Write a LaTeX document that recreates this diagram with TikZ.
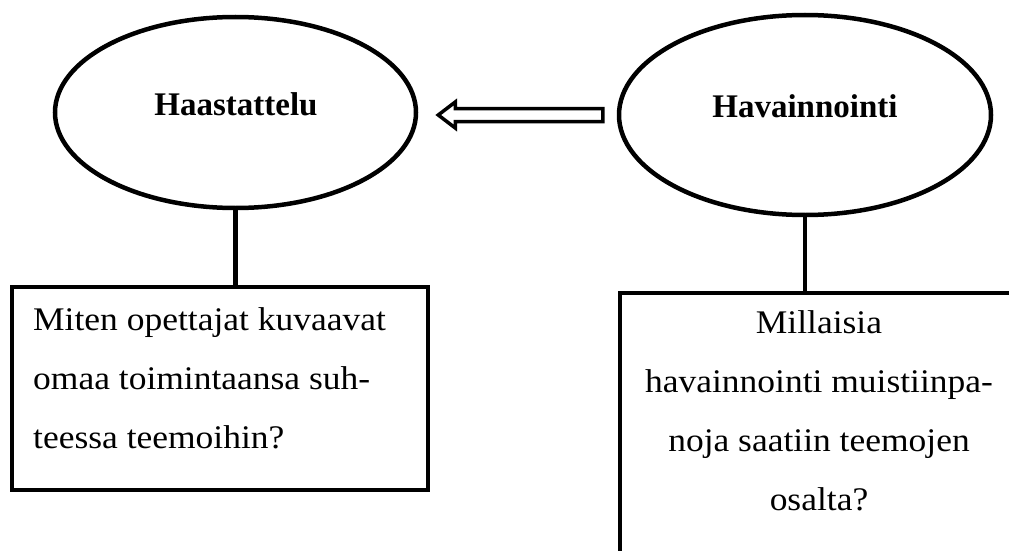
\documentclass[tikz,border=0pt]{standalone}
\usepackage{fontspec}
\setmainfont{Liberation Serif}
\newfontfamily\bodyfont[FakeStretch=1.075]{Liberation Serif}
\usetikzlibrary{shapes.geometric,calc}
\begin{document}
\begin{tikzpicture}[x=1pt,y=-1pt,
  oval/.style={ellipse, draw, line width=4.5pt, inner sep=0pt},
  qbox/.style={rectangle, draw, line width=4.5pt, inner sep=0pt},
  link/.style={line width=4.5pt},
  hollow/.style={draw, line width=3.5pt, line join=miter, fill=white},
  txt/.style={font=\bodyfont\fontsize{33}{59}\selectfont, inner sep=0pt},
  lbl/.style={font=\fontsize{33}{38}\selectfont\bfseries, inner sep=0pt}]
\clip (0,0) rectangle (1009,551);

% the two method ovals
\node[oval, minimum width=361pt, minimum height=191pt] (H) at (235.5,112.5) {};
\node[oval, minimum width=372pt, minimum height=200pt] (V) at (805,115) {};
\node[lbl, anchor=base] (tH) at (236,115) {Haastattelu};
\node[lbl, anchor=base] (tV) at (805,117) {Havainnointi};

% question boxes
\node[qbox, minimum width=416pt, minimum height=203pt] (B1) at (220,388.5) {};
\node[qbox, minimum width=402pt, minimum height=300pt] (B2) at (821,443) {};
\node[txt, anchor=north west, align=left] (q1) at (33,307)
  {Miten opettajat kuvaavat\\omaa toimintaansa suh-\\teessa teemoihin?};
\node[txt, anchor=north, align=center] (q2) at (819,310)
  {Millaisia\\havainnointi muistiinpa-\\noja saatiin teemojen\\osalta?};

% stems from ovals to boxes
\draw[link] (H.south) -- (H.south |- B1.north);
\draw[link] (V.south) -- (V.south |- B2.north);

% hollow block arrow between the ovals
\coordinate (tip) at ($(H.east)+(20,2.5)$);
\coordinate (tail) at ($(V.west)+(-14,0)$);
\draw[hollow] (tip) -- ++(17,-13) -- ++(0,6.5) -- ($(tail)+(0,-6.5)$)
  -- ($(tail)+(0,6.5)$) -- ($(tip)+(17,6.5)$) -- ++(0,6.5) -- cycle;
\end{tikzpicture}
\end{document}
